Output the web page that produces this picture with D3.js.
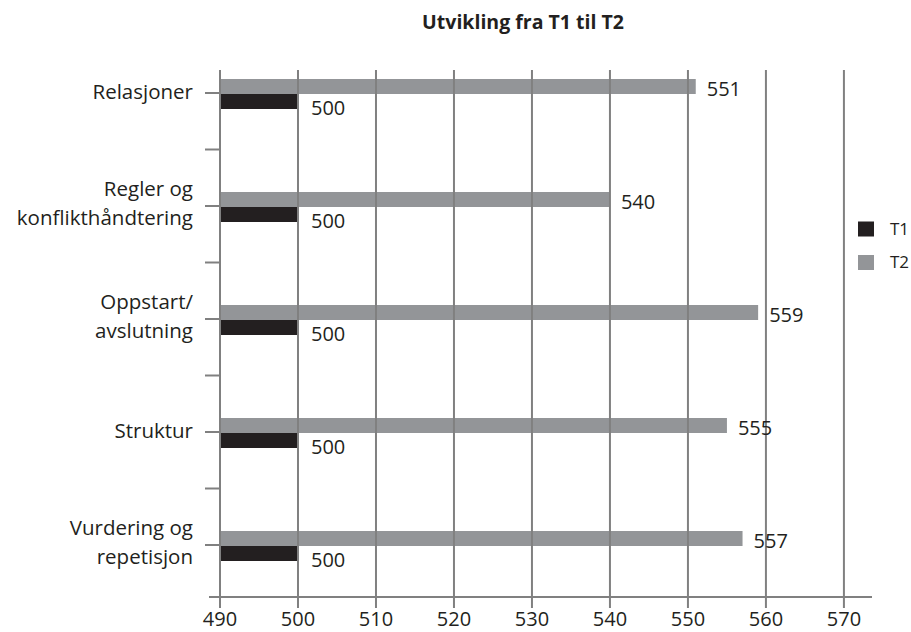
<!DOCTYPE html>
<html><head><meta charset="utf-8">
<script src="https://cdn.jsdelivr.net/npm/d3@7"></script>
<style>body{margin:0;background:#fff}svg{display:block}text{font-family:"Open Sans",sans-serif;fill:#231f20}</style>
</head><body>
<script>
const categories = [["Relasjoner"],["Regler og","konflikthåndtering"],["Oppstart/","avslutning"],["Struktur"],["Vurdering og","repetisjon"]];
const catKeys = ["Relasjoner","Regler","Oppstart","Struktur","Vurdering"];
const seriesNames = ["T1","T2"];
const t1Values = [500,500,500,500,500];
const t2Values = [551,540,559,555,557];
const xTicks = [490,500,510,520,530,540,550,560,570];
const title = "Utvikling fra T1 til T2";
const colors = {T1:"#231f20", T2:"#939598"};

const W=911,H=632;
const svg=d3.select("body").append("svg").attr("width",W).attr("height",H);
const x=d3.scaleLinear().domain([490,573.6]).range([220,872]);
const y=d3.scaleBand().domain(catKeys).range([36.5,601.5]).padding(0);
const center=k=>y(k)+y.bandwidth()/2;
const inner=d3.scaleBand().domain(["T2","T1"]).range([-14,16]);
const gridTop=70, axisY=597, gridBottom=608, gridColor="#808080";

svg.append("text").attr("x",523).attr("y",29).attr("text-anchor","middle")
  .style("font-size","19.5px").style("font-weight","bold").text(title);

// bars
const g=svg.append("g");
catKeys.forEach((k,i)=>{
  const c=center(k);
  [["T2",t2Values[i]],["T1",t1Values[i]]].forEach(([s,v])=>{
    g.append("rect").attr("x",x(490)).attr("y",c+inner(s)).attr("width",x(v)-x(490))
      .attr("height",inner.bandwidth()).attr("fill",colors[s]);
  });
});

// gridlines (on top)
xTicks.forEach(t=>{
  svg.append("line").attr("x1",x(t)).attr("x2",x(t)).attr("y1",gridTop).attr("y2",gridBottom)
    .attr("stroke",gridColor).attr("stroke-width",2);
});
// x axis line
svg.append("line").attr("x1",209).attr("x2",x(573.6)).attr("y1",axisY).attr("y2",axisY)
  .attr("stroke",gridColor).attr("stroke-width",2);
xTicks.forEach(t=>{
  svg.append("text").attr("x",x(t)).attr("y",626).attr("text-anchor","middle")
    .style("font-size","20px").text(t);
});
// y ticks
const yTickPos=[];
catKeys.forEach((k,i)=>{yTickPos.push(center(k)); if(i<catKeys.length-1) yTickPos.push(y(k)+y.bandwidth());});
yTickPos.forEach(p=>{
  svg.append("line").attr("x1",205).attr("x2",220).attr("y1",p).attr("y2",p)
    .attr("stroke",gridColor).attr("stroke-width",2);
});
// category labels
catKeys.forEach((k,i)=>{
  const lines=categories[i];
  const lh=28.5;
  const off = lines.length>1 ? -2.5 : -1;
  const t=svg.append("text").attr("text-anchor","end").style("font-size","20.5px");
  lines.forEach((ln,j)=>{
    t.append("tspan").attr("x",193).attr("y",center(k)+off+(j-(lines.length-1)/2)*lh).attr("dy","0.35em").text(ln);
  });
});
// value labels
catKeys.forEach((k,i)=>{
  const c=center(k);
  svg.append("text").attr("x",x(t2Values[i])+11).attr("y",c+inner("T2")+inner.bandwidth()/2+2).attr("dy","0.35em")
    .style("font-size","20px").text(t2Values[i]);
  svg.append("text").attr("x",x(t1Values[i])+13).attr("y",c+inner("T1")+inner.bandwidth()/2+6).attr("dy","0.35em")
    .style("font-size","20px").text(t1Values[i]);
});
// legend
seriesNames.forEach((s,i)=>{
  const ly=221.5+i*33.5;
  svg.append("rect").attr("x",858).attr("y",ly).attr("width",16).attr("height",15).attr("fill",colors[s]);
  svg.append("text").attr("x",890).attr("y",ly+7.5).attr("dy","0.35em").style("font-size","17px").text(s);
});
</script>
</body></html>
